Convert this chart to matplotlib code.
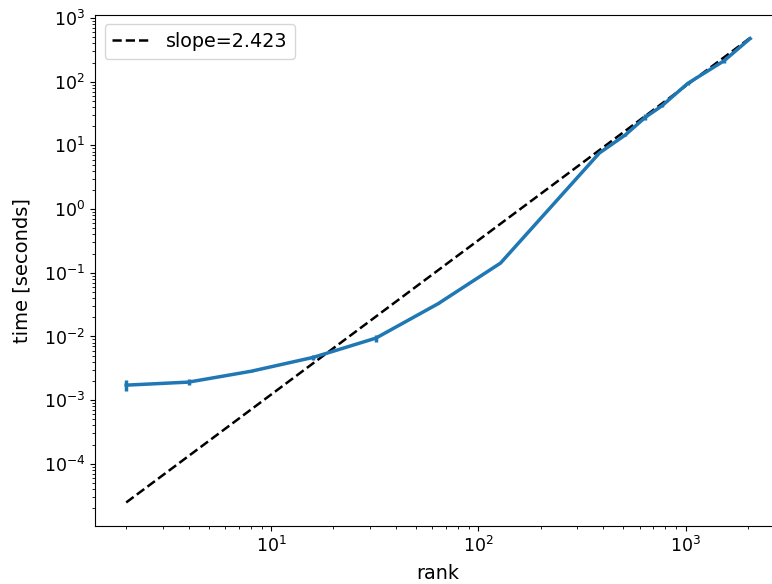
import matplotlib.pyplot as plt
import numpy as np

ranks = [2, 4, 8, 16, 32, 64, 128, 384, 512, 640, 768, 1024, 1536, 2048]
times = [1.72e-3, 1.92e-3, 2.84e-3, 4.7e-3, 9.4e-3, 0.0327, 0.142,
         7.6, 14.6, 27.7, 41.7, 94.0, 214.0, 476.0]
errs = [0.33e-3, 0.2e-3, 0.05e-3, 0.45e-3, 1.1e-3, 0.8e-3, 0.002,
        0.1, 0.3, 3.0, 1.5, 4.0, 20.0, 5.0]

# fitted power law: log10(t) = slope*log10(r) + intercept
slope = 2.423
intercept = -5.336

plt.rcParams['font.size'] = 12.5

fig = plt.figure(figsize=(7.72, 5.84), dpi=100)
ax = fig.add_axes([95 / 772, 58.3 / 584, 686.3 / 772, 511 / 584])

ax.errorbar(ranks, times, yerr=errs, color='C0', linewidth=2.5,
            elinewidth=2.5, capsize=0)
r = np.array([ranks[0], ranks[-1]], dtype=float)
ax.plot(r, 10 ** (slope * np.log10(r) + intercept), 'k--', linewidth=1.8,
        label='slope=%.3f' % slope)

ax.set_xscale('log')
ax.set_yscale('log')
ax.set_xlabel('rank', fontsize=13.8, labelpad=6)
ax.set_ylabel('time [seconds]', fontsize=14, labelpad=9)
ax.legend(loc='upper left', fontsize=13.8)

fig.savefig('out.png', dpi=100)
